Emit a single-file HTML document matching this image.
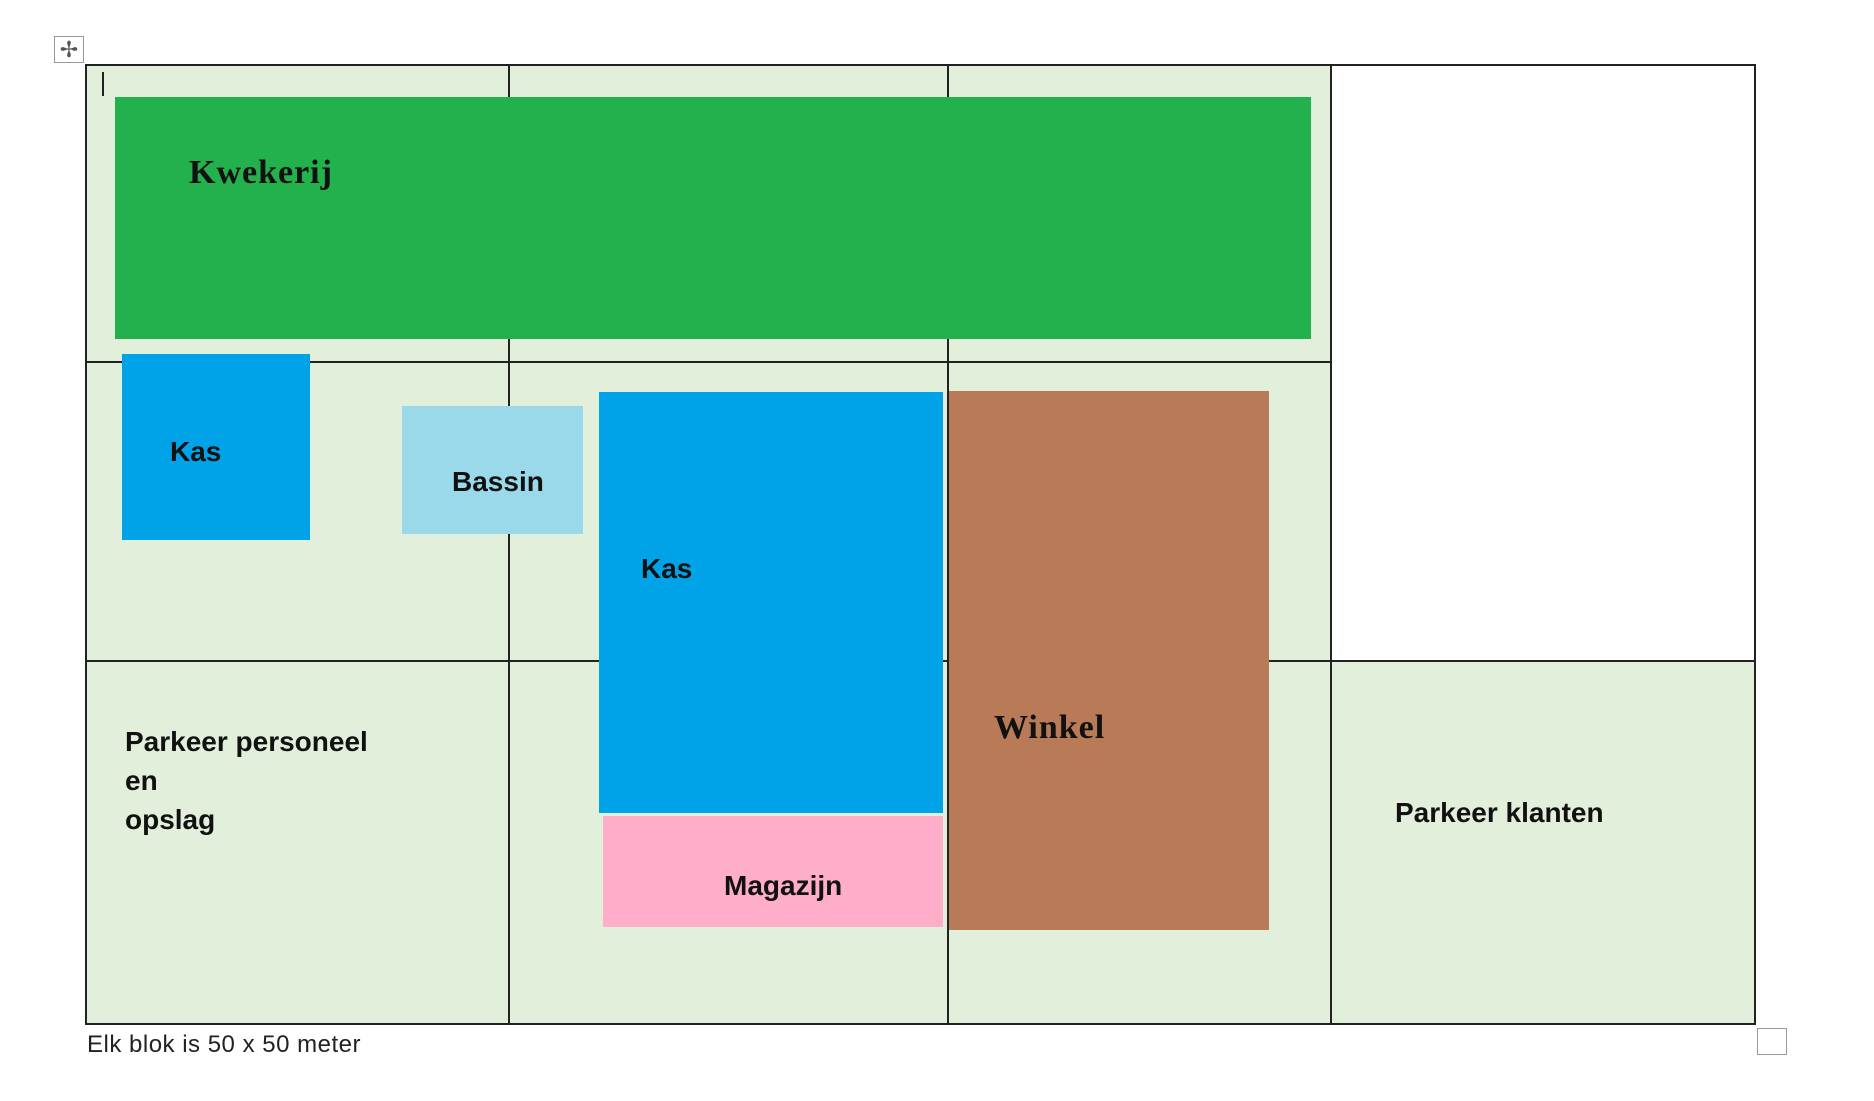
<!DOCTYPE html>
<html><head><meta charset="utf-8"><style>
body{margin:0;width:1874px;height:1101px;background:#fff;position:relative;overflow:hidden;font-family:"Liberation Sans",sans-serif}
.a{position:absolute;box-sizing:border-box}
.t{position:absolute;font-weight:bold;font-size:28px;color:#111;white-space:nowrap;line-height:1}
.s{position:absolute;font-family:"Liberation Serif",serif;font-weight:900;font-size:34px;color:#111;line-height:1;letter-spacing:1px}
</style></head><body>
<div class="a" style="left:86px;top:65px;width:1245px;height:959px;background:#e2efda"></div>
<div class="a" style="left:1331px;top:661px;width:423px;height:363px;background:#e2efda"></div>
<div class="a" style="left:85px;top:64px;width:1671px;height:961px;border:2px solid #222"></div>
<div class="a" style="left:508px;top:65px;width:2px;height:959px;background:#222"></div>
<div class="a" style="left:947px;top:65px;width:2px;height:959px;background:#222"></div>
<div class="a" style="left:1330px;top:65px;width:2px;height:959px;background:#222"></div>
<div class="a" style="left:86px;top:361px;width:1245px;height:2px;background:#222"></div>
<div class="a" style="left:86px;top:660px;width:1668px;height:2px;background:#222"></div>
<div class="a" style="left:115px;top:97px;width:1196px;height:242px;background:#23b14d"></div>
<div class="a" style="left:122px;top:354px;width:188px;height:186px;background:#00a2e8"></div>
<div class="a" style="left:402px;top:406px;width:181px;height:128px;background:#99d9ea"></div>
<div class="a" style="left:599px;top:392px;width:344px;height:421px;background:#00a2e8"></div>
<div class="a" style="left:603px;top:816px;width:340px;height:111px;background:#ffaec9"></div>
<div class="a" style="left:949px;top:391px;width:320px;height:539px;background:#b97a57"></div>
<div class="s" style="left:189px;top:156px">Kwekerij</div>
<div class="t" style="left:170px;top:438px">Kas</div>
<div class="t" style="left:452px;top:468px">Bassin</div>
<div class="t" style="left:641px;top:555px">Kas</div>
<div class="t" style="left:724px;top:872px">Magazijn</div>
<div class="s" style="left:994px;top:711px">Winkel</div>
<div class="t" style="left:125px;top:722px;line-height:39px">Parkeer personeel<br>en<br>opslag</div>
<div class="t" style="left:1395px;top:799px">Parkeer klanten</div>
<div class="a" style="left:87px;top:1031px;font-size:24px;color:#222;white-space:nowrap;letter-spacing:0.5px">Elk blok is 50 x 50 meter</div>
<div class="a" style="left:54px;top:36px;width:30px;height:27px;border:1px solid #999;text-align:center;font-size:22px;line-height:25px;color:#555">✢</div>
<div class="a" style="left:1757px;top:1028px;width:30px;height:27px;border:1px solid #999"></div>
<div class="a" style="left:102px;top:72px;width:2px;height:24px;background:#222"></div>
</body></html>
